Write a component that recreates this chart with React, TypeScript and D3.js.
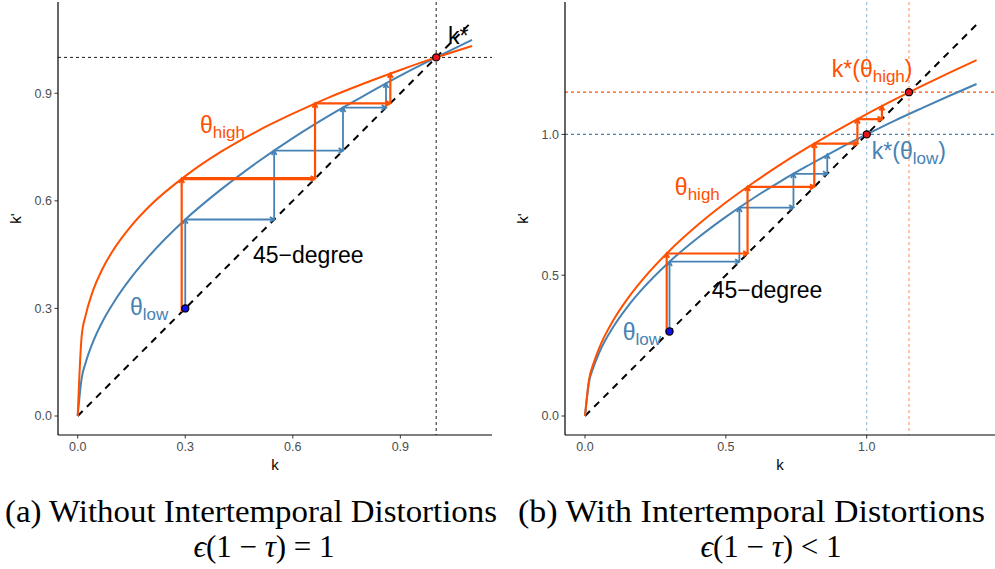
import * as d3 from 'd3';

const W = 995;
const H = 569;

const ORANGE = '#FF4F00';
const BLUE = '#4682B4';

// panel (a): eps(1 - tau) = 1
const kLeft = [0, 0.011, 0.022, 0.04, 0.07, 0.1, 0.15, 0.2, 0.3, 0.4, 0.5, 0.6, 0.7, 0.8, 0.9, 1.0, 1.1];
const highLeft = [0, 0.222, 0.28, 0.342, 0.412, 0.464, 0.531, 0.585, 0.669, 0.737, 0.794, 0.843, 0.888, 0.928, 0.965, 1.0, 1.032];
const lowLeft = [0, 0.105, 0.148, 0.2, 0.265, 0.316, 0.387, 0.447, 0.548, 0.632, 0.707, 0.775, 0.837, 0.894, 0.949, 1.0, 1.049];
const cobHighLeftStart = 0.29;
const cobHighLeft = [0.662, 0.872, 0.955];
const cobLowLeftStart = 0.3;
const cobLowLeft = [0.548, 0.74, 0.86, 0.927];
const ticksLeft = [0, 0.3, 0.6, 0.9];

// panel (b): eps(1 - tau) < 1
const kRight = [0, 0.014, 0.03, 0.05, 0.1, 0.15, 0.2, 0.3, 0.4, 0.5, 0.6, 0.7, 0.8, 0.9, 1.0, 1.1, 1.2, 1.3, 1.39];
const highRight = [0, 0.127, 0.186, 0.24, 0.339, 0.415, 0.479, 0.587, 0.678, 0.758, 0.83, 0.897, 0.959, 1.017, 1.072, 1.124, 1.174, 1.222, 1.264];
const lowRight = [0, 0.118, 0.173, 0.224, 0.316, 0.387, 0.447, 0.548, 0.632, 0.707, 0.775, 0.837, 0.894, 0.949, 1.0, 1.049, 1.095, 1.14, 1.179];
const cobHighRightStart = 0.29;
const cobHighRight = [0.577, 0.814, 0.967, 1.054, 1.1];
const cobLowRightStart = 0.3;
const cobLowRight = [0.548, 0.74, 0.86, 0.929];
const ticksRight = [0, 0.5, 1.0];
const kStarLow = 1.0;
const kStarHigh = 1.15;

const SANS = "'Liberation Sans', Arial, sans-serif";
const SERIF = "'Liberation Serif', 'Times New Roman', serif";

type Seg = { x1: number; y1: number; x2: number; y2: number };

function cobweb(start: number, vals: number[]): Seg[] {
  const segs: Seg[] = [];
  let prev = start;
  vals.forEach((v, i) => {
    segs.push({ x1: prev, y1: prev, x2: prev, y2: v });
    if (i < vals.length - 1) segs.push({ x1: prev, y1: v, x2: v, y2: v });
    prev = v;
  });
  return segs;
}

function head(x1: number, y1: number, x2: number, y2: number, len = 5) {
  const a = Math.atan2(y2 - y1, x2 - x1);
  const a1 = a + Math.PI - Math.PI / 6;
  const a2 = a + Math.PI + Math.PI / 6;
  return `M${x2 + len * Math.cos(a1)},${y2 + len * Math.sin(a1)}L${x2},${y2}L${x2 + len * Math.cos(a2)},${y2 + len * Math.sin(a2)}`;
}

function Arrows({ segs, x, y, color, width, thick }: any) {
  return (
    <g stroke={color} fill="none" strokeLinecap="butt">
      {segs.map((s: Seg, i: number) => {
        const X1 = x(s.x1), Y1 = y(s.y1), X2 = x(s.x2), Y2 = y(s.y2);
        const w = thick === i ? width + 1 : width;
        return (
          <g key={i} strokeWidth={w}>
            <line x1={X1} y1={Y1} x2={X2} y2={Y2} />
            <path d={head(X1, Y1, X2, Y2)} strokeWidth={Math.min(w, 2)} />
          </g>
        );
      })}
    </g>
  );
}

function Theta({ px, py, sub, color, pre = '', post = '' }: any) {
  return (
    <text x={px} y={py} fill={color} fontFamily={SANS} fontSize={23}>
      {pre}θ
      <tspan fontSize={17} dy={5}>{sub}</tspan>
      {post ? <tspan dy={-5}>{post}</tspan> : null}
    </text>
  );
}

function Panel(p: any) {
  const { x, y, box, ticks, kGrid, high, low, cobH, cobL, thick } = p;
  const line = (vals: number[]) =>
    d3.line<number>()
      .x((_, i) => x(kGrid[i]))
      .y((d) => y(d))
      .curve(d3.curveMonotoneX)(vals) ?? '';
  const kMax = kGrid[kGrid.length - 1];
  return (
    <g>
      {p.refLines}
      <line x1={x(0)} y1={y(0)} x2={x(kMax)} y2={y(kMax)} stroke="#000" strokeWidth={2} strokeDasharray="7,6" />
      <path d={line(low)} fill="none" stroke={BLUE} strokeWidth={2} />
      <path d={line(high)} fill="none" stroke={ORANGE} strokeWidth={2} />
      <Arrows segs={cobL} x={x} y={y} color={BLUE} width={1.8} />
      <Arrows segs={cobH} x={x} y={y} color={ORANGE} width={2.2} thick={thick} />
      {p.points}
      {/* axes */}
      <line x1={box.x0} y1={box.y1} x2={box.x1} y2={box.y1} stroke="#000" strokeWidth={1.2} />
      <line x1={box.x0} y1={box.y0} x2={box.x0} y2={box.y1} stroke="#000" strokeWidth={1.2} />
      {ticks.map((t: number) => (
        <g key={'x' + t}>
          <line x1={x(t)} x2={x(t)} y1={box.y1} y2={box.y1 + 3.5} stroke="#333" strokeWidth={1} />
          <text x={x(t)} y={box.y1 + 16} textAnchor="middle" fontSize={12.5} fill="#4D4D4D" fontFamily={SANS}>
            {t.toFixed(1)}
          </text>
        </g>
      ))}
      {ticks.map((t: number) => (
        <g key={'y' + t}>
          <line x1={box.x0 - 3.5} x2={box.x0} y1={y(t)} y2={y(t)} stroke="#333" strokeWidth={1} />
          <text x={box.x0 - 6} y={y(t) + 4.4} textAnchor="end" fontSize={12.5} fill="#4D4D4D" fontFamily={SANS}>
            {t.toFixed(1)}
          </text>
        </g>
      ))}
      <text x={(box.x0 + box.x1) / 2} y={box.y1 + 35} textAnchor="middle" fontSize={15} fontFamily={SANS}>k</text>
      <text transform={`translate(${box.x0 - 37},${(box.y0 + box.y1) / 2}) rotate(-90)`} textAnchor="middle" fontSize={15} fontFamily={SANS}>k'</text>
      {p.labels}
    </g>
  );
}

function Dot({ cx, cy, fill }: any) {
  return <circle cx={cx} cy={cy} r={3.6} fill={fill} stroke="#000" strokeWidth={1.2} />;
}

export default function App() {
  // panel (a) scales
  const boxL = { x0: 58, x1: 492, y0: 2, y1: 435 };
  const xL = d3.scaleLinear().domain([0, 1]).range([77.7, 436.2]);
  const yL = d3.scaleLinear().domain([0, 1]).range([416, 57.4]);
  // panel (b) scales
  const boxR = { x0: 565, x1: 995, y0: 2, y1: 435 };
  const xR = d3.scaleLinear().domain([0, 1]).range([585, 866.7]);
  const yR = d3.scaleLinear().domain([0, 1]).range([416, 134.4]);

  const refLeft = (
    <g stroke="#000" strokeWidth={0.9} strokeDasharray="3,3">
      <line x1={boxL.x0} x2={boxL.x1} y1={yL(1)} y2={yL(1)} />
      <line x1={xL(1)} x2={xL(1)} y1={boxL.y0} y2={boxL.y1} />
    </g>
  );
  const refRight = (
    <g strokeWidth={1.1} strokeDasharray="3,3">
      <line x1={boxR.x0} x2={boxR.x1} y1={yR(kStarHigh)} y2={yR(kStarHigh)} stroke={ORANGE} />
      <line x1={boxR.x0} x2={boxR.x1} y1={yR(kStarLow)} y2={yR(kStarLow)} stroke={BLUE} />
      <line x1={xR(kStarLow)} x2={xR(kStarLow)} y1={boxR.y0} y2={boxR.y1} stroke={BLUE} strokeOpacity={0.55} />
      <line x1={xR(kStarHigh)} x2={xR(kStarHigh)} y1={boxR.y0} y2={boxR.y1} stroke={ORANGE} strokeOpacity={0.6} />
    </g>
  );

  return (
    <svg width={W} height={H} style={{ position: 'absolute', left: 0, top: 0, background: '#fff' }}>
      <rect width={W} height={H} fill="#fff" />
      <Panel
        x={xL}
        y={yL}
        box={boxL}
        ticks={ticksLeft}
        kGrid={kLeft}
        high={highLeft}
        low={lowLeft}
        cobH={cobweb(cobHighLeftStart, cobHighLeft)}
        cobL={cobweb(cobLowLeftStart, cobLowLeft)}
        thick={1}
        refLines={refLeft}
        points={
          <g>
            <Dot cx={xL(cobLowLeftStart)} cy={yL(cobLowLeftStart)} fill="#1010EE" />
            <Dot cx={xL(1)} cy={yL(1)} fill="#E8141B" />
          </g>
        }
        labels={
          <g>
            <Theta px={xL(0.341)} py={yL(0.789)} sub="high" color={ORANGE} />
            <Theta px={xL(0.146)} py={yL(0.282)} sub="low" color={BLUE} />
            <text x={xL(0.489)} y={yL(0.427)} fontSize={23} fontFamily={SANS}>45−degree</text>
            <text x={xL(1.033)} y={yL(1.037)} fontSize={23} fontFamily={SANS}>k*</text>
          </g>
        }
      />
      <Panel
        x={xR}
        y={yR}
        box={boxR}
        ticks={ticksRight}
        kGrid={kRight}
        high={highRight}
        low={lowRight}
        cobH={cobweb(cobHighRightStart, cobHighRight)}
        cobL={cobweb(cobLowRightStart, cobLowRight)}
        refLines={refRight}
        points={
          <g>
            <Dot cx={xR(cobLowRightStart)} cy={yR(cobLowRightStart)} fill="#1010EE" />
            <Dot cx={xR(kStarLow)} cy={yR(kStarLow)} fill="#E8141B" />
            <Dot cx={xR(kStarHigh)} cy={yR(kStarHigh)} fill="#E8141B" />
          </g>
        }
        labels={
          <g>
            <Theta px={xR(0.319)} py={yR(0.785)} sub="high" color={ORANGE} />
            <Theta px={xR(0.134)} py={yR(0.27)} sub="low" color={BLUE} />
            <text x={xR(0.45)} y={yR(0.419)} fontSize={23} fontFamily={SANS}>45−degree</text>
            <Theta px={xR(0.876)} py={yR(1.204)} sub="high" color={ORANGE} pre="k*(" post=")" />
            <Theta px={xR(1.018)} py={yR(0.913)} sub="low" color={BLUE} pre="k*(" post=")" />
          </g>
        }
      />
      {/* captions */}
      <g fontFamily={SERIF} fill="#000">
        <text x={251} y={522} textAnchor="middle" fontSize={31} textLength={492} lengthAdjust="spacingAndGlyphs">
          (a) Without Intertemporal Distortions
        </text>
        <text x={264} y={557} textAnchor="middle" fontSize={31}>
          <tspan fontStyle="italic">ϵ</tspan>(1 − <tspan fontStyle="italic">τ</tspan>) = 1
        </text>
        <text x={751.5} y={522} textAnchor="middle" fontSize={31} textLength={467} lengthAdjust="spacingAndGlyphs">
          (b) With Intertemporal Distortions
        </text>
        <text x={771} y={557} textAnchor="middle" fontSize={31}>
          <tspan fontStyle="italic">ϵ</tspan>(1 − <tspan fontStyle="italic">τ</tspan>) &lt; 1
        </text>
      </g>
    </svg>
  );
}
